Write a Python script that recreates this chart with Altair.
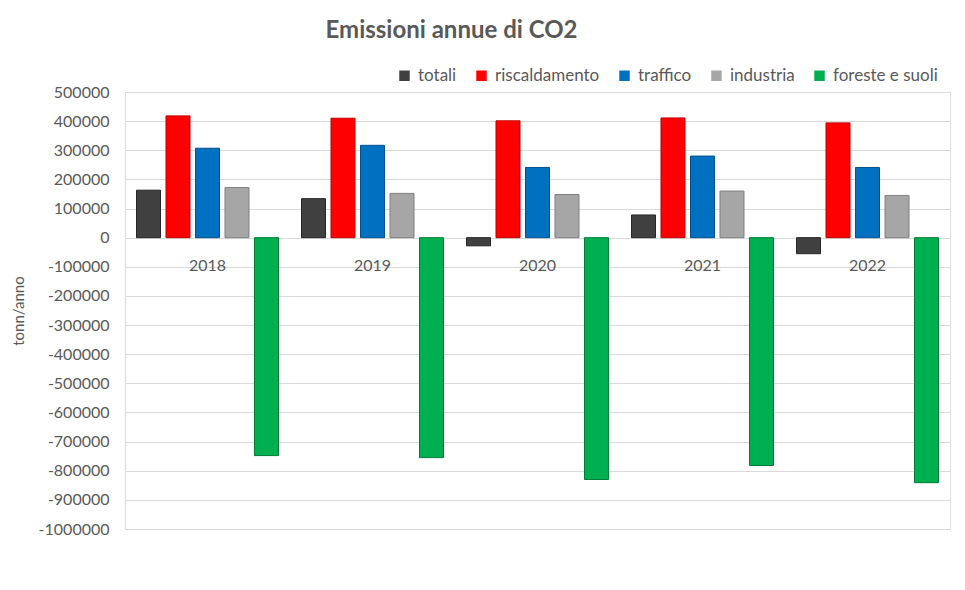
import altair as alt
import pandas as pd

years = ["2018", "2019", "2020", "2021", "2022"]
series = ["totali", "riscaldamento", "traffico", "industria", "foreste e suoli"]
totali = [163000, 134000, -28000, 78000, -55000]
riscaldamento = [418000, 410000, 401000, 411000, 394000]
traffico = [307000, 317000, 241000, 280000, 241000]
industria = [172000, 152000, 148000, 160000, 145000]
foreste = [-748000, -755000, -830000, -782000, -841000]
tick_values = [500000, 400000, 300000, 200000, 100000, 0, -100000, -200000,
               -300000, -400000, -500000, -600000, -700000, -800000, -900000, -1000000]
colors = ["#404040", "#FF0000", "#0070C0", "#A6A6A6", "#00B050"]
strokes = ["#262626", "#C00000", "#00508C", "#7F7F7F", "#007A38"]

values = [totali, riscaldamento, traffico, industria, foreste]
rows = []
for s, vals in zip(series, values):
    for y, v in zip(years, vals):
        rows.append({"anno": y, "serie": s, "valore": v})
df = pd.DataFrame(rows)
years_df = pd.DataFrame({"anno": years})

FONT = "Lato"
GREY = "#595959"

x_enc = alt.X("anno:N", sort=years, axis=None,
              scale=alt.Scale(paddingInner=0, paddingOuter=0))

y_scale = alt.Scale(domain=[-1000000, 500000], nice=False)
y_axis = alt.Axis(values=tick_values,
                  labelExpr="datum.value + ''",
                  labelOverlap=False,
                  title="tonn/anno", titleFont=FONT, titleFontSize=15,
                  titleFontWeight="normal", titleColor=GREY,
                  titlePadding=12,
                  labelFont=FONT, labelFontSize=16, labelColor=GREY,
                  labelPadding=16,
                  domain=False, ticks=False,
                  grid=True, gridColor="#D9D9D9", gridWidth=1)

bars = alt.Chart(df).mark_bar(strokeWidth=1).encode(
    x=x_enc,
    xOffset=alt.XOffset("serie:N", sort=series,
                        scale=alt.Scale(paddingInner=0.186, paddingOuter=0.39)),
    y=alt.Y("valore:Q", scale=y_scale, axis=y_axis),
    color=alt.Color("serie:N", sort=series,
                    scale=alt.Scale(domain=series, range=colors),
                    legend=alt.Legend(title=None, orient="none", direction="horizontal",
                                      legendX=271, legendY=-25,
                                      symbolType="square", symbolSize=110,
                                      symbolStrokeWidth=0,
                                      labelFont=FONT, labelFontSize=17, labelColor=GREY,
                                      labelOffset=5, columnPadding=16)),
    stroke=alt.Stroke("serie:N", sort=series,
                      scale=alt.Scale(domain=series, range=strokes), legend=None),
)

labels = alt.Chart(years_df).mark_text(
    font=FONT, fontSize=16, color=GREY, baseline="middle", dy=28
).encode(
    x=x_enc,
    y=alt.YDatum(0, type="quantitative", scale=y_scale, axis=y_axis),
    text="anno:N",
)

chart = alt.layer(bars, labels).properties(
    width=825,
    height=437,
    autosize=alt.AutoSizeParams(type="none"),
    padding={"left": 117, "top": 84, "right": 7, "bottom": 50},
    title=alt.TitleParams("Emissioni annue di CO2", font=FONT, fontSize=24,
                          fontWeight="bold", color=GREY, anchor="middle",
                          dx=-86, offset=24),
).configure_view(strokeWidth=0).configure(background="white")

chart.save("out.html", embed_options={"renderer": "svg", "actions": False})
